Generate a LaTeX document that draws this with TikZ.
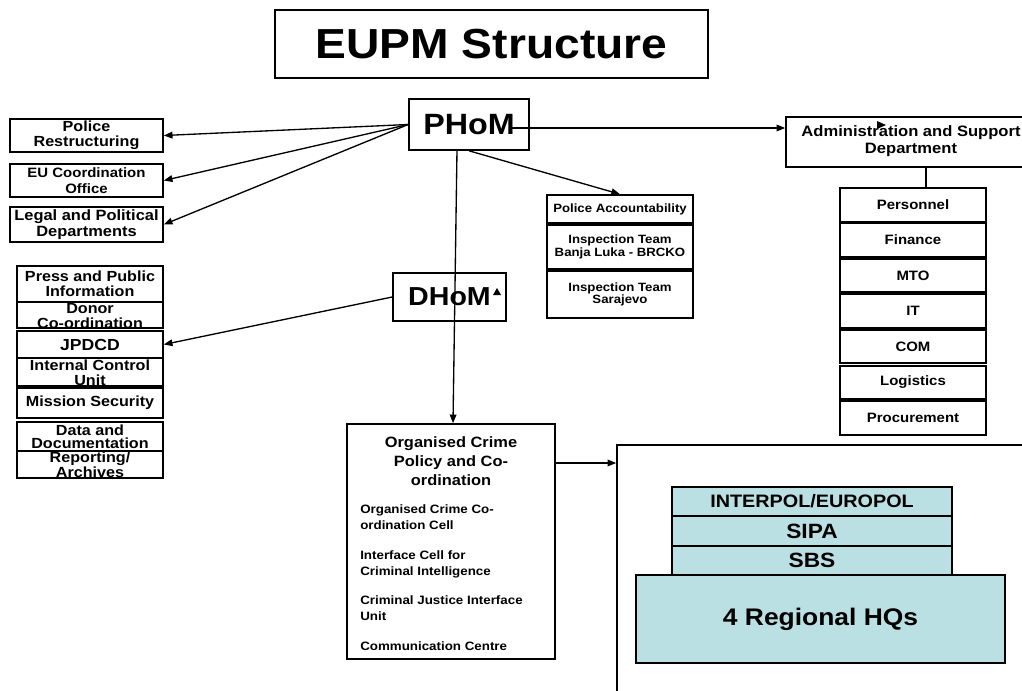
\documentclass[tikz,border=0pt]{standalone}
\usepackage{fontspec}
\setmainfont{Liberation Sans}[FakeStretch=1.1]
\usetikzlibrary{arrows.meta,fit,calc}
\definecolor{cyanfill}{RGB}{187,224,227}
\newcommand\myfs[2]{\fontsize{#1}{#2}\selectfont}
\begin{document}
\begin{tikzpicture}[x=0.75pt,y=-0.75pt,
  bx/.style={draw, line width=1.2pt, inner sep=0pt},
  cy/.style={bx, fill=cyanfill},
  lbl/.style={inner sep=0pt, align=center},
  itm/.style={inner sep=0pt, align=left, anchor=west, font=\bfseries\myfs{9.1}{12}},
  arr/.style={line width=1pt, -{Triangle[length=6.5pt,width=5pt]}},
  ln/.style={line width=1pt}]
\useasboundingbox (0,0) rectangle (1022,690);
\clip (0,0) rectangle (1022,690);

% title
\node[bx, line width=2pt, fit={(275,10)(708,78)}] (title) {};
\node[lbl, font=\bfseries\myfs{31.5}{34}] (titlet) at (title.center) {EUPM Structure};

% PHoM
\node[bx, fit={(409,99)(529,150)}] (phom) {};
\node[lbl, font=\bfseries\myfs{22}{24}] (phomt) at (phom.center) {PHoM};

% left column
\node[bx, fit={(10,119)(163,152)}] (pr) {};
\node[lbl, font=\bfseries\myfs{11}{11.5}] (prt) at (pr.center) {Police\\Restructuring};
\node[bx, fit={(10,164)(163,197)}] (eu) {};
\node[lbl, font=\bfseries\myfs{10.2}{11.5}] (eut) at (eu.center) {EU Coordination\\Office};
\node[bx, fit={(10,207)(163,242)}] (legal) {};
\node[lbl, font=\bfseries\myfs{11.2}{11.5}] (legalt) at (legal.center) {Legal and Political\\Departments};

% DHoM
\node[bx, fit={(393,273)(506,321)}] (dhom) {};
\node[lbl, font=\bfseries\myfs{19.5}{22}] (dhomt) at (dhom.center) {DHoM};

% left stack
\node[bx, fit={(17,266)(163,302)}] (press) {};
\node[lbl, font=\bfseries\myfs{11}{11.5}] (presst) at (press.center) {Press and Public\\Information};
\node[bx, fit={(17,302)(163,328)}] (donor) {};
\node[lbl, font=\bfseries\myfs{11}{11.5}] (donort) at ($(donor.center)+(0,1)$) {Donor\\Co-ordination};
\node[bx, fit={(17,331)(163,358)}] (jpdcd) {};
\node[lbl, font=\bfseries\myfs{12}{12}] (jpdcdt) at (jpdcd.center) {JPDCD};
\node[bx, fit={(17,358)(163,386)}] (icu) {};
\node[lbl, font=\bfseries\myfs{11}{11}] (icut) at ($(icu.center)+(0,1)$) {Internal Control\\Unit};
\node[bx, fit={(17,388)(163,418)}] (ms) {};
\node[lbl, font=\bfseries\myfs{11}{11}] (mst) at (ms.center) {Mission Security};
\node[bx, fit={(17,422)(163,451)}] (data) {};
\node[lbl, font=\bfseries\myfs{11}{10}] (datat) at (data.center) {Data and\\Documentation};
\node[bx, fit={(17,451)(163,478)}] (rep) {};
\node[lbl, font=\bfseries\myfs{11}{11}] (rept) at (rep.center) {Reporting/\\Archives};

% police accountability stack
\node[bx, fit={(547,195)(693,223)}] (pa) {};
\node[lbl, font=\bfseries\myfs{9}{9}] (pat) at (pa.center) {Police Accountability};
\node[bx, fit={(547,225)(693,269)}] (it1) {};
\node[lbl, font=\bfseries\myfs{9}{9.5}] (it1t) at (it1.center) {Inspection Team\\Banja Luka - BRCKO};
\node[bx, fit={(547,271)(693,318)}] (it2) {};
\node[lbl, font=\bfseries\myfs{9}{9.5}] (it2t) at (it2.center) {Inspection Team\\Sarajevo};

% administration
\node[bx, fit={(786,117)(1035,167)}] (admin) {};
\node[lbl, font=\bfseries\myfs{11.3}{13}] (admint) at (911,141) {Administration and Support\\Department};
\node[bx, fit={(840,188)(986,222)}] (pers) {};
\node[lbl, font=\bfseries\myfs{10.2}{11}] (perst) at (pers.center) {Personnel};
\node[bx, fit={(840,223)(986,257)}] (fin) {};
\node[lbl, font=\bfseries\myfs{10.2}{11}] (fint) at (fin.center) {Finance};
\node[bx, fit={(840,259)(986,292)}] (mto) {};
\node[lbl, font=\bfseries\myfs{10.2}{11}] (mtot) at (mto.center) {MTO};
\node[bx, fit={(840,294)(986,328)}] (itd) {};
\node[lbl, font=\bfseries\myfs{10.2}{11}] (itdt) at (itd.center) {IT};
\node[bx, fit={(840,330)(986,363)}] (com) {};
\node[lbl, font=\bfseries\myfs{10.2}{11}] (comt) at (com.center) {COM};
\node[bx, fit={(840,366)(986,399)}] (log) {};
\node[lbl, font=\bfseries\myfs{10.2}{11}] (logt) at (log.center) {Logistics};
\node[bx, fit={(840,401)(986,435)}] (proc) {};
\node[lbl, font=\bfseries\myfs{10.2}{11}] (proct) at (proc.center) {Procurement};

% organised crime
\node[bx, fit={(347,424)(555,659)}] (oc) {};
\node[lbl, font=\bfseries\myfs{11.2}{14}] (oct) at (451,461) {Organised Crime\\Policy and Co-\\ordination};
\node[itm] (oc1) at (360,517) {Organised Crime Co-\\ordination Cell};
\node[itm] (oc2) at (360,564) {Interface Cell for\\Criminal Intelligence};
\node[itm] (oc3) at (360,608) {Criminal Justice Interface\\Unit};
\node[itm] (oc4) at (360,646) {Communication Centre};

% big box
\node[bx, fit={(617,445)(1040,710)}] (big) {};
\node[cy, fit={(672,487)(952,516)}] (interpol) {};
\node[lbl, font=\bfseries\myfs{13.5}{14}] (interpolt) at (interpol.center) {INTERPOL/EUROPOL};
\node[cy, fit={(672,516)(952,546)}] (sipa) {};
\node[lbl, font=\bfseries\myfs{15.5}{16}] (sipat) at (sipa.center) {SIPA};
\node[cy, fit={(672,546)(952,575)}] (sbs) {};
\node[lbl, font=\bfseries\myfs{15.5}{16}] (sbst) at (sbs.center) {SBS};
\node[cy, fit={(636,575)(1005,663)}] (hq) {};
\node[lbl, font=\bfseries\myfs{18}{19}] (hqt) at (hq.center) {4 Regional HQs};

% connectors
\coordinate (ar1) at (510,128);
\coordinate (vtop) at (457,150);
\coordinate (vbot) at (453,424);
\coordinate (pc) at (926,0);
\coordinate (lv) at (0,463);
\draw[arr] (phom.west) -- (pr.east);
\draw[arr] (phom.west) -- (eu.east);
\draw[arr] (phom.west) -- (legal.east);
\draw[arr] (ar1) -- (admin.west |- ar1);
\draw[arr] (phom.south) -- (pa.north);
\draw[arr] (vtop) -- (oc.north -| vbot);
\draw[arr] (dhom.west) -- (jpdcd.east);
\draw[ln] (admin.south -| pc) -- (pers.north -| pc);
\draw[arr] (oc.east |- lv) -- (big.west |- lv);

% stray arrow tips
\fill (877,121) -- (886,125) -- (877,129) -- cycle;
\fill (497,288) -- (501,295) -- (493,295) -- cycle;
\end{tikzpicture}
\end{document}
